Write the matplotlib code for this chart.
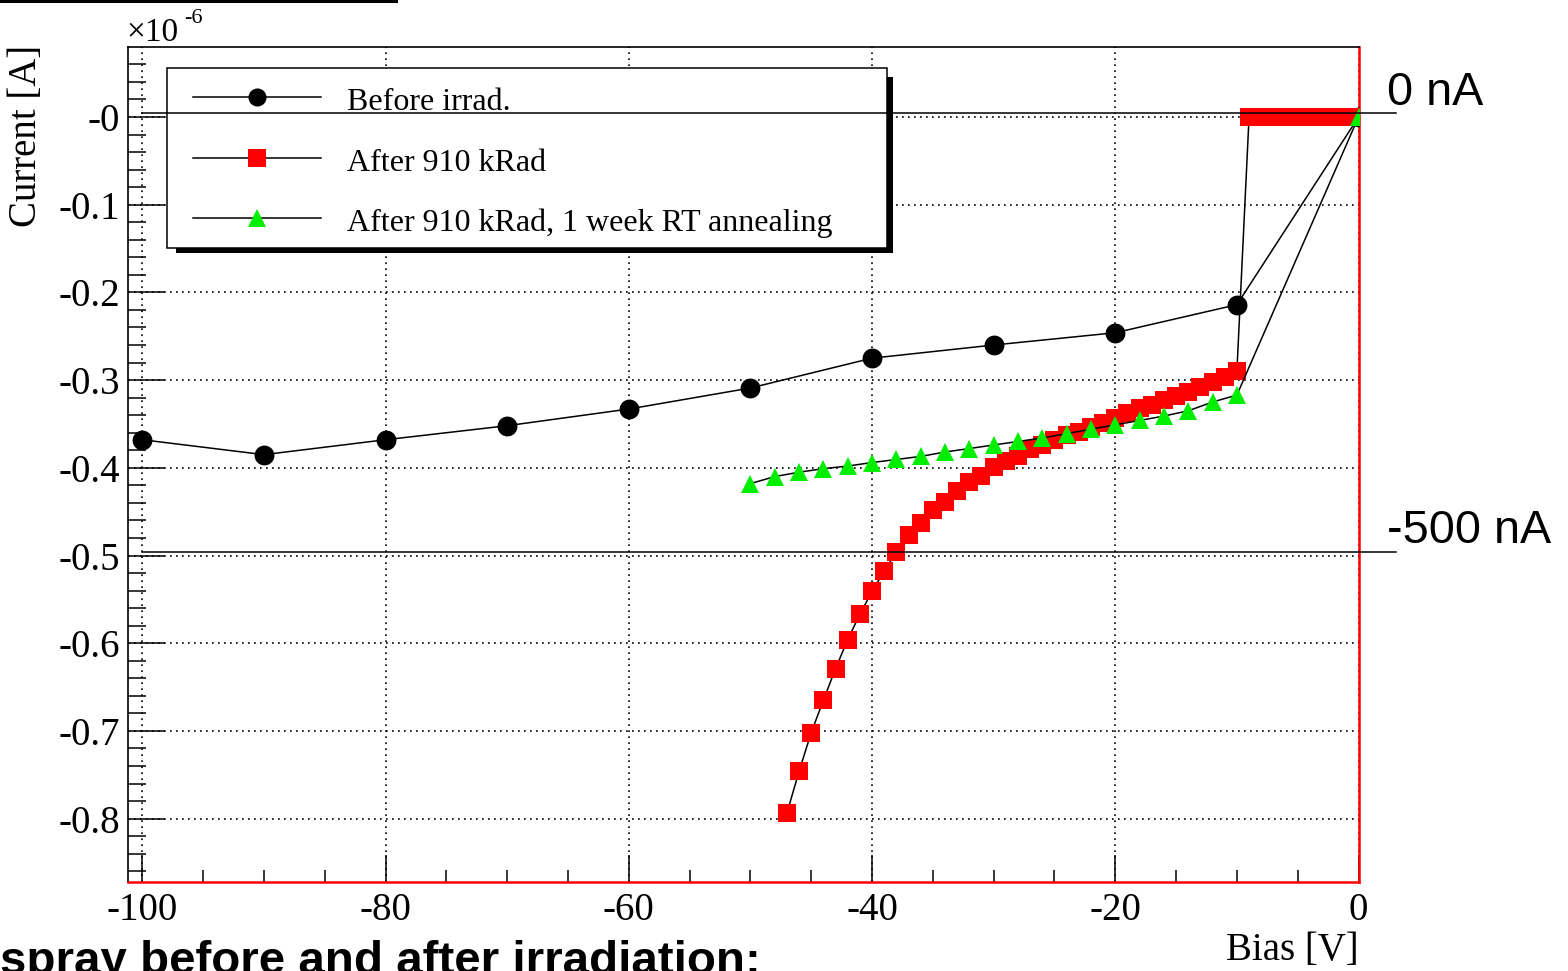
import numpy as np
import matplotlib
matplotlib.use("Agg")
import matplotlib.pyplot as plt
from matplotlib.lines import Line2D
from matplotlib.patches import Rectangle

# ---------------- data (current in units of 1e-6 A) ----------------
bias_before = [-100, -90, -80, -70, -60, -50, -40, -30, -20, -10, 0]
current_before = [-0.368, -0.385, -0.368, -0.352, -0.333, -0.309, -0.275,
                  -0.260, -0.246, -0.214, 0.0]

bias_after = [-47, -46, -45, -44, -43, -42, -41, -40, -39, -38, -37, -36,
              -35, -34, -33, -32, -31, -30, -29, -28, -27, -26, -25, -24,
              -23, -22, -21, -20, -19, -18, -17, -16, -15, -14, -13, -12,
              -11, -10, -9, -8, -7, -6, -5, -4, -3, -2, -1, 0]
current_after = [-0.794, -0.746, -0.702, -0.665, -0.629, -0.596, -0.567,
                 -0.541, -0.518, -0.496, -0.477, -0.463, -0.448, -0.439,
                 -0.426, -0.416, -0.409, -0.399, -0.392, -0.386, -0.378,
                 -0.374, -0.368, -0.363, -0.359, -0.354, -0.349, -0.343,
                 -0.338, -0.332, -0.328, -0.323, -0.318, -0.313, -0.308,
                 -0.302, -0.297, -0.290, 0.0, 0.0, 0.0, 0.0, 0.0, 0.0, 0.0,
                 0.0, 0.0, 0.0]

bias_anneal = [-50, -48, -46, -44, -42, -40, -38, -36, -34, -32, -30, -28,
               -26, -24, -22, -20, -18, -16, -14, -12, -10, 0]
current_anneal = [-0.418, -0.410, -0.405, -0.401, -0.398, -0.394, -0.3905,
                  -0.387, -0.382, -0.378, -0.374, -0.370, -0.366, -0.361,
                  -0.356, -0.351, -0.346, -0.341, -0.335, -0.325, -0.317, 0.0]

labels = ["Before irrad.", "After 910 kRad", "After 910 kRad, 1 week RT annealing"]
x_ticks = [-100, -80, -60, -40, -20, 0]
x_ticklabels = ["-100", "-80", "-60", "-40", "-20", "0"]
y_ticks = [0.0, -0.1, -0.2, -0.3, -0.4, -0.5, -0.6, -0.7, -0.8]
y_ticklabels = ["-0", "-0.1", "-0.2", "-0.3", "-0.4", "-0.5", "-0.6", "-0.7", "-0.8"]

# ---------------- figure ----------------
W, H = 1568, 971
fig = plt.figure(figsize=(W / 100, H / 100), dpi=100)
SERIF = "Liberation Serif"
SANS = "Liberation Sans"


def fx(x):
    return x / W


def fy(y):
    return 1 - y / H


L, R, T, B = 128.3, 1359.0, 47.0, 882.3
ax = fig.add_axes([fx(L), fy(B), (R - L) / W, (B - T) / H])
ax.set_xlim(-101.15, 0.04)
ax.set_ylim(-0.8726, 0.0798)

# grid
ax.set_axisbelow(True)
ax.grid(True, which="major", color="black", linestyle=(0, (1.0, 2.6)), linewidth=1.2)

# series
ax.plot(bias_before, current_before, color="black", lw=1.1, marker="o", ms=14.3,
        mfc="black", mec="black", mew=0, zorder=3)
ax.plot(bias_after, current_after, color="black", lw=1.1, marker="s", ms=12.7,
        mfc="red", mec="red", mew=0, zorder=4)
ax.plot(bias_anneal, current_anneal, color="black", lw=1.1, marker="^", ms=13,
        mfc="#00ee00", mec="#00ee00", mew=0, zorder=5)

# ticks
ax.set_xticks(x_ticks)
ax.set_xticklabels(x_ticklabels)
ax.set_xticks(np.arange(-100, 1, 5), minor=True)
ax.set_yticks(y_ticks)
ax.set_yticklabels(y_ticklabels)
ax.set_yticks(np.round(np.arange(-0.86, 0.07, 0.02), 2), minor=True)
ax.tick_params(axis="x", which="major", direction="in", length=19.4, width=1.1,
               pad=7, labelsize=28)
ax.tick_params(axis="x", which="minor", direction="in", length=8.6, width=1.1)
ax.tick_params(axis="y", which="major", direction="in", length=26.6, width=1.1,
               pad=5.8, labelsize=28)
ax.tick_params(axis="y", which="minor", direction="in", length=13, width=1.1)
for lab in ax.get_xticklabels() + ax.get_yticklabels():
    lab.set_fontfamily(SERIF)

for s in ("left", "top"):
    ax.spines[s].set_color("black")
    ax.spines[s].set_linewidth(1.2)
for s in ("right", "bottom"):
    ax.spines[s].set_color("red")
    ax.spines[s].set_linewidth(1.8)

# axis titles
fig.text(fx(R), fy(960), "Bias [V]", ha="right", va="baseline",
         fontsize=28, fontfamily=SERIF)
fig.text(fx(27), fy(45), "Current [A]", rotation=90, ha="center", va="top",
         fontsize=28, fontfamily=SERIF)
fig.text(fx(126), fy(41), "\u00d710", ha="left", va="baseline",
         fontsize=24, fontfamily=SERIF)
fig.text(fx(184), fy(23), "-6", ha="left", va="baseline",
         fontsize=16, fontfamily=SERIF)

# legend (ROOT style box with shadow)
lx0, ly0, lx1, ly1 = 167.3, 68.3, 887.0, 247.7
fig.add_artist(Rectangle((fx(lx0 + 9), fy(ly1 + 5.5)), (lx1 - lx0 - 3.5) / W,
                         (ly1 - ly0 - 3.5) / H, transform=fig.transFigure,
                         facecolor="black", edgecolor="none", zorder=6))
fig.add_artist(Rectangle((fx(lx0), fy(ly1)), (lx1 - lx0) / W, (ly1 - ly0) / H,
                         transform=fig.transFigure, facecolor="white",
                         edgecolor="black", linewidth=1.1, zorder=7))
entry_y = [96.7, 157.7, 218.3]
styles = [dict(marker="o", ms=13, mfc="black"),
          dict(marker="s", ms=12.7, mfc="red"),
          dict(marker="^", ms=12.5, mfc="#00ee00")]
for yy, st, lab in zip(entry_y, styles, labels):
    fig.add_artist(Line2D([fx(192.7), fx(321)], [fy(yy), fy(yy)],
                          transform=fig.transFigure, color="black", lw=1.1,
                          zorder=8))
    fig.add_artist(Line2D([fx(256.7)], [fy(yy)], transform=fig.transFigure,
                          linestyle="none", marker=st["marker"], ms=st["ms"],
                          mfc=st["mfc"], mec=st["mfc"], mew=0, zorder=9))
    fig.text(fx(346.7), fy(yy + 13), lab, ha="left", va="baseline",
             fontsize=23, fontfamily=SERIF, zorder=9)

# slide annotations
for yy in (112.7, 551.7):
    fig.add_artist(Line2D([fx(141.7), fx(1396)], [fy(yy), fy(yy)],
                          transform=fig.transFigure, color="black", lw=1.1,
                          zorder=12))
fig.text(fx(1387), fy(105), "0 nA", ha="left", va="baseline", fontsize=33.7,
         fontfamily=SANS)
fig.text(fx(1387), fy(543), "-500 nA", ha="left", va="baseline", fontsize=33.7,
         fontfamily=SANS)
fig.add_artist(Line2D([0, fx(396)], [fy(1.3), fy(1.3)], transform=fig.transFigure,
                      color="black", lw=2.2, zorder=12))
fig.text(fx(0), fy(974), "spray before and after irradiation:", ha="left",
         va="baseline", fontsize=34.2, fontweight="bold", fontfamily=SANS)

fig.savefig("out.png", dpi=100)
